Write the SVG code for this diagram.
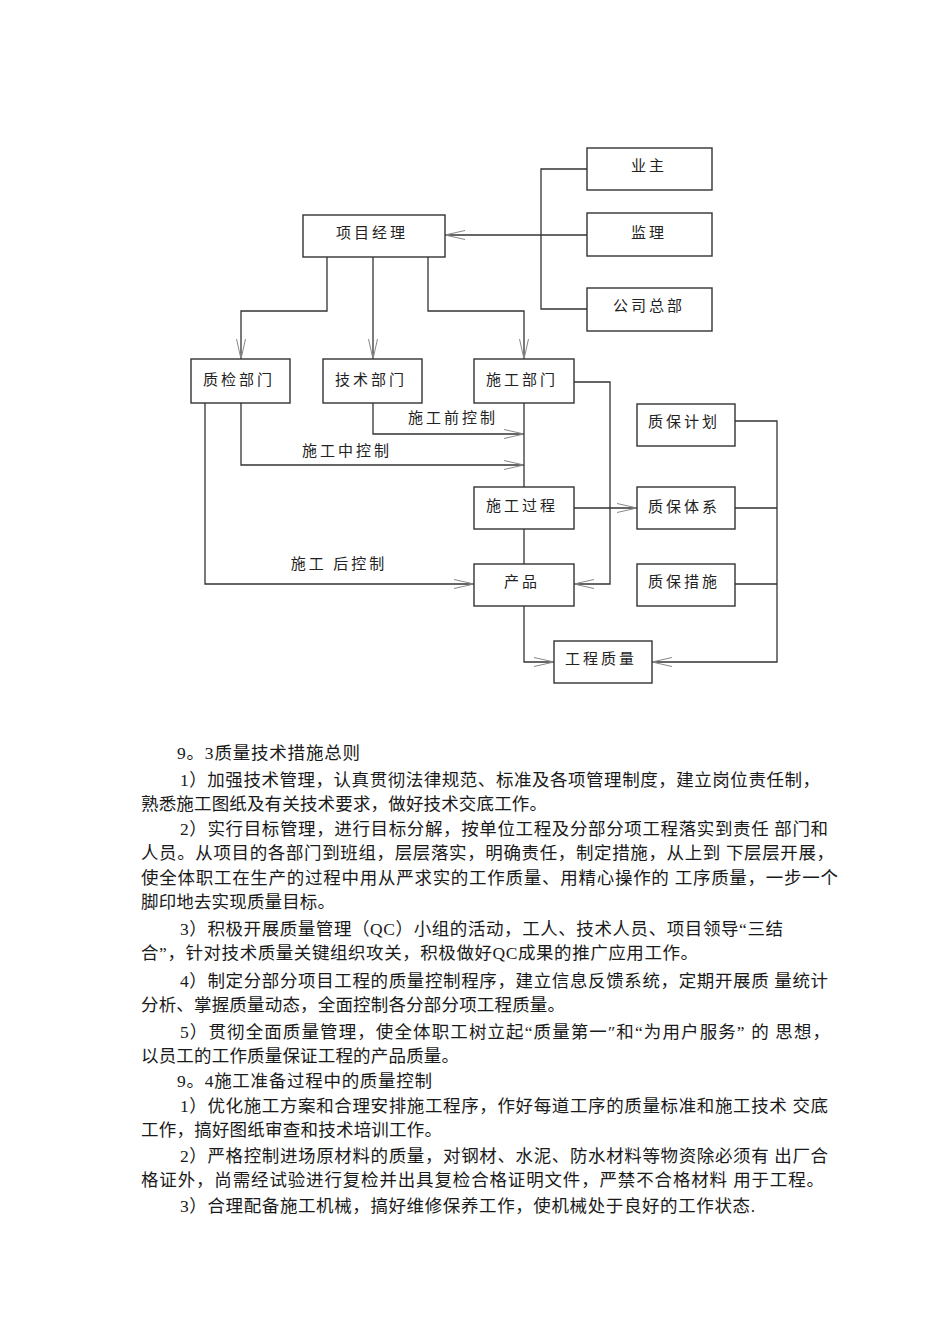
<svg xmlns="http://www.w3.org/2000/svg" width="950" height="1344" viewBox="0 0 950 1344">
<style>
.box{fill:#fff;stroke:#333;stroke-width:1.4}
.lbl{font-family:'Noto Sans CJK SC',sans-serif;font-size:15px;letter-spacing:3px;fill:#222;text-anchor:middle;dominant-baseline:central}
.conn{fill:none;stroke:#333;stroke-width:1.3}
.body{font-family:'Liberation Serif','Noto Sans CJK SC',serif;font-size:17.5px;fill:#1a1a1a}
</style>
<defs>
<marker id="arr" markerUnits="userSpaceOnUse" viewBox="-22 -6 23 12" markerWidth="23" markerHeight="12" refX="0" refY="0" orient="auto">
<path d="M-20,-4.5 L0,0 L-20,4.5" fill="none" stroke="#888" stroke-width="1"/>
</marker>
</defs>
<rect width="950" height="1344" fill="#fff"/>
<g id="connectors">
<path class="conn" d="M587,169 H541 V309 H587"/>
<path class="conn" d="M587,235 H445" marker-end="url(#arr)"/>
<path class="conn" d="M327,257 V311 H241 V359" marker-end="url(#arr)"/>
<path class="conn" d="M373,257 V359" marker-end="url(#arr)"/>
<path class="conn" d="M428,257 V311 H524 V359" marker-end="url(#arr)"/>
<path class="conn" d="M574,382 H610 V584 H574" marker-end="url(#arr)"/>
<path class="conn" d="M373,403 V434 H524" marker-end="url(#arr)"/>
<path class="conn" d="M241,403 V465 H524" marker-end="url(#arr)"/>
<path class="conn" d="M205,403 V584 H474" marker-end="url(#arr)"/>
<path class="conn" d="M524,403 V487"/>
<path class="conn" d="M524,529 V564"/>
<path class="conn" d="M574,508 H637" marker-end="url(#arr)"/>
<path class="conn" d="M524,606 V662 H554" marker-end="url(#arr)"/>
<path class="conn" d="M735,421 H777 V662 H652" marker-end="url(#arr)"/>
<path class="conn" d="M735,508 H777 M735,584 H777"/>
<text class="lbl" x="453" y="416">施工前控制</text>
<text class="lbl" x="347" y="449">施工中控制</text>
<text class="lbl" x="339" y="562" xml:space="preserve">施工 后控制</text>
</g>
<g id="n-yezhu"><rect class="box" x="587" y="148" width="125" height="42"/><text class="lbl" x="649" y="164">业主</text></g>
<g id="n-jianli"><rect class="box" x="587" y="213" width="125" height="43"/><text class="lbl" x="649" y="231">监理</text></g>
<g id="n-gongsi"><rect class="box" x="587" y="288" width="125" height="43"/><text class="lbl" x="649" y="304">公司总部</text></g>
<g id="n-xiangmu"><rect class="box" x="303" y="215" width="142" height="42"/><text class="lbl" x="372" y="231">项目经理</text></g>
<g id="n-zhijian"><rect class="box" x="191" y="359" width="99" height="44"/><text class="lbl" x="239" y="378">质检部门</text></g>
<g id="n-jishu"><rect class="box" x="323" y="359" width="99" height="44"/><text class="lbl" x="371" y="378">技术部门</text></g>
<g id="n-shigong"><rect class="box" x="474" y="359" width="100" height="44"/><text class="lbl" x="522" y="378">施工部门</text></g>
<g id="n-zbjh"><rect class="box" x="637" y="404" width="98" height="42"/><text class="lbl" x="684" y="420">质保计划</text></g>
<g id="n-sggc"><rect class="box" x="474" y="487" width="100" height="42"/><text class="lbl" x="522" y="504">施工过程</text></g>
<g id="n-zbtx"><rect class="box" x="637" y="487" width="98" height="42"/><text class="lbl" x="684" y="505">质保体系</text></g>
<g id="n-chanpin"><rect class="box" x="474" y="564" width="100" height="42"/><text class="lbl" x="522" y="580">产品</text></g>
<g id="n-zbcs"><rect class="box" x="637" y="564" width="98" height="42"/><text class="lbl" x="684" y="580">质保措施</text></g>
<g id="n-gczl"><rect class="box" x="554" y="641" width="98" height="42"/><text class="lbl" x="601" y="657">工程质量</text></g>
<g id="body-text" class="body" xml:space="preserve">
<text x="177" y="759" textLength="183">9。3质量技术措施总则</text>
<text x="180" y="786" textLength="640">1）加强技术管理，认真贯彻法律规范、标准及各项管理制度，建立岗位责任制，</text>
<text x="141" y="810" textLength="406">熟悉施工图纸及有关技术要求，做好技术交底工作。</text>
<text x="180" y="835" textLength="648">2）实行目标管理，进行目标分解，按单位工程及分部分项工程落实到责任 部门和</text>
<text x="141" y="859" textLength="693">人员。从项目的各部门到班组，层层落实，明确责任，制定措施，从上到 下层层开展，</text>
<text x="141" y="884" textLength="697">使全体职工在生产的过程中用从严求实的工作质量、用精心操作的 工序质量，一步一个</text>
<text x="141" y="908" textLength="194">脚印地去实现质量目标。</text>
<text x="180" y="935" textLength="603">3）积极开展质量管理（QC）小组的活动，工人、技术人员、项目领导“三结</text>
<text x="141" y="959" textLength="557">合”，针对技术质量关键组织攻关，积极做好QC成果的推广应用工作。</text>
<text x="180" y="987" textLength="648">4）制定分部分项目工程的质量控制程序，建立信息反馈系统，定期开展质 量统计</text>
<text x="141" y="1011" textLength="424">分析、掌握质量动态，全面控制各分部分项工程质量。</text>
<text x="180" y="1038" textLength="650">5）贯彻全面质量管理，使全体职工树立起“质量第一″和“为用户服务” 的 思想，</text>
<text x="141" y="1062" textLength="318">以员工的工作质量保证工程的产品质量。</text>
<text x="177" y="1087" textLength="255">9。4施工准备过程中的质量控制</text>
<text x="180" y="1112" textLength="648">1）优化施工方案和合理安排施工程序，作好每道工序的质量标准和施工技术 交底</text>
<text x="141" y="1136" textLength="301">工作，搞好图纸审查和技术培训工作。</text>
<text x="180" y="1162" textLength="648">2）严格控制进场原材料的质量，对钢材、水泥、防水材料等物资除必须有 出厂合</text>
<text x="141" y="1186" textLength="683">格证外，尚需经试验进行复检并出具复检合格证明文件，严禁不合格材料 用于工程。</text>
<text x="180" y="1212" textLength="575">3）合理配备施工机械，搞好维修保养工作，使机械处于良好的工作状态.</text>
</g>
</svg>
